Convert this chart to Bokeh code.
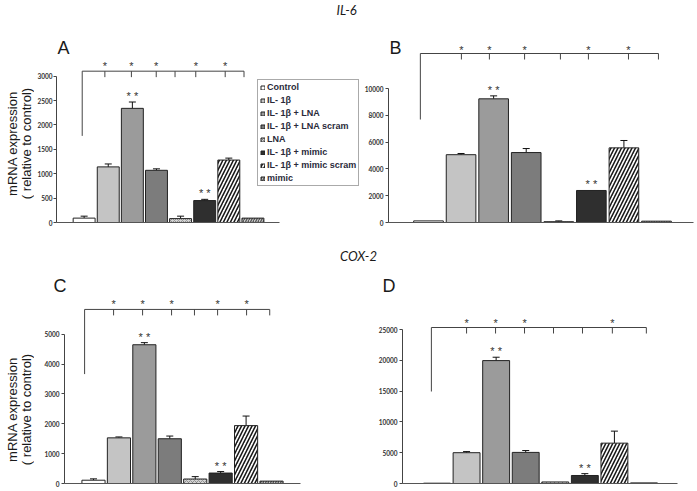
import math
from bokeh.plotting import figure
from bokeh.models import (ColumnDataSource, Range1d, FixedTicker, Label, Legend,
                          LegendItem, Whisker, TeeHead)
from bokeh.layouts import column, row
from bokeh.embed import file_html
from bokeh.resources import INLINE
from bokeh.core.properties import value

# ---------------- data ----------------
categories = ["Control", "IL- 1β", "IL- 1β + LNA", "IL- 1β + LNA scram", "LNA",
              "IL- 1β + mimic", "IL- 1β + mimic scram", "mimic"]
positions = [1, 2, 3, 4, 5, 6, 7, 8]

il6_a_values = [90, 1140, 2340, 1070, 80, 450, 1280, 90]
il6_a_errors = [40, 60, 130, 30, 50, 25, 40, 0]
il6_b_values = [120, 5060, 9230, 5220, 60, 2390, 5570, 100]
il6_b_errors = [0, 90, 220, 300, 60, 0, 550, 0]
cox2_c_values = [110, 1530, 4650, 1500, 150, 350, 1940, 80]
cox2_c_errors = [45, 30, 70, 90, 80, 50, 320, 0]
cox2_d_values = [50, 5000, 19950, 5050, 250, 1300, 6550, 100]
cox2_d_errors = [0, 180, 550, 300, 0, 300, 1950, 0]

ticks_a = [0, 500, 1000, 1500, 2000, 2500, 3000]
ticks_b = [0, 2000, 4000, 6000, 8000, 10000]
ticks_c = [0, 1000, 2000, 3000, 4000, 5000]
ticks_d = [0, 5000, 10000, 15000, 20000, 25000]

# significance bracket tick positions (category units) and which carry "*"
bracket_a = [1.86, 2.96, 3.99, 4.77, 5.63, 6.85, 7.63]
bracket_b = [2.01, 2.87, 3.95, 5.05, 5.91, 7.14, 8.06]
bracket_c = [1.79, 2.93, 4.07, 4.97, 5.88, 7.02, 7.93]
bracket_d = [2.00, 2.98, 3.96, 4.94, 5.92, 6.93, 8.08]
star_a = [0, 1, 2, 4, 5]
star_b = [0, 1, 2, 4, 5]
star_c = [0, 1, 2, 4, 5]
star_d = [0, 1, 2, 5]
double_star_bars = [3, 6]

ylabel_lines = ["mRNA expression", "( relative to control)"]

# ---------------- styles ----------------
bar_fill = ["#ffffff", "#c4c4c4", "#9b9b9b", "#7c7c7c", "#d2d2d2", "#2f2f2f", "#ffffff", "#c8c8c8"]
bar_hatch = [" ", " ", " ", " ", "x", " ", "/", "/"]
bar_hatch_color = ["#000000", "#000000", "#000000", "#000000", "#808080", "#000000", "#1a1a1a", "#555555"]
bar_hatch_scale = [6, 6, 6, 6, 4, 6, 7, 5]
bar_hatch_weight = [1, 1, 1, 1, 0.8, 1, 1.6, 1.3]

TICK_FONT = "Lato"
INK = "#333333"
TOTAL_H = 490


def build_panel(geom, vals, errs, yticks, brk_ticks, star_idx, brk_px, standoff=2):
    fx, fy, fw, fh = geom["fig"]
    axis_px, c1, dx = geom["axis_px"], geom["c1"], geom["dx"]
    base, top_px, top_val = geom["base"], geom["top_px"], geom["top_val"]
    upp = top_val / (base - top_px)

    def px2x(px):
        return 1 + (px - c1) / dx

    def px2y(py):
        return (base - py) * upp

    p = figure(width=fw, height=fh, output_backend="svg", toolbar_location=None,
               x_range=Range1d(px2x(axis_px), px2x(fx + fw)),
               y_range=Range1d(0, px2y(fy)),
               min_border_left=axis_px - fx, min_border_right=0,
               min_border_top=0, min_border_bottom=fy + fh - base,
               title=None)
    p.outline_line_color = None
    p.xgrid.visible = False
    p.ygrid.visible = False
    p.background_fill_color = "white"
    p.border_fill_color = "white"

    ya = p.yaxis[0]
    ya.ticker = FixedTicker(ticks=yticks)
    ya.bounds = (0, yticks[-1])
    ya.major_label_text_font = TICK_FONT
    ya.major_label_text_font_style = "bold"
    ya.major_label_text_font_size = "6.5px"
    ya.major_label_text_color = INK
    ya.major_label_standoff = standoff
    ya.major_tick_out = 3
    ya.major_tick_in = 0
    ya.minor_tick_out = 0
    ya.minor_tick_in = 0
    ya.axis_line_color = "#444444"
    ya.major_tick_line_color = "#444444"

    xa = p.xaxis[0]
    xa.ticker = FixedTicker(ticks=[])
    xa.bounds = (px2x(axis_px), px2x(geom["base_end"]))
    xa.major_tick_out = 0
    xa.major_tick_in = 0
    xa.minor_tick_out = 0
    xa.minor_tick_in = 0
    xa.major_label_text_font_size = "0px"
    xa.axis_line_color = "#555555"

    src = ColumnDataSource(dict(x=positions, top=vals, fill=bar_fill, hatch=bar_hatch,
                                hcol=bar_hatch_color, hscale=bar_hatch_scale,
                                hweight=bar_hatch_weight, cat=categories))
    r = p.vbar(x="x", top="top", width=0.91, source=src, fill_color="fill",
               line_color="#222222", line_width=1, hatch_pattern="hatch",
               hatch_color="hcol", hatch_scale="hscale", hatch_weight="hweight")

    ex = [x for x, e in zip(positions, errs) if e > 0]
    lo = [v for v, e in zip(vals, errs) if e > 0]
    hi = [v + e for v, e in zip(vals, errs) if e > 0]
    wsrc = ColumnDataSource(dict(x=ex, lower=lo, upper=hi))
    p.add_layout(Whisker(base="x", lower="lower", upper="upper", source=wsrc,
                         line_color="#111111", line_width=1, lower_head=None,
                         upper_head=TeeHead(size=7, line_color="#111111", line_width=1)))

    brk_y = px2y(brk_px["y"])
    drop_y = px2y(brk_px["drop"])
    tick_low = px2y(brk_px["y"] + 6)
    left = brk_px["left"]
    xs = [[left, brk_ticks[-1]], [left, left]]
    ys = [[brk_y, brk_y], [brk_y, drop_y]]
    for t in brk_ticks:
        xs.append([t, t])
        ys.append([brk_y, tick_low])
    p.multi_line(xs=xs, ys=ys, line_color="#444444", line_width=1)

    sx = [brk_ticks[i] for i in star_idx]
    sy = [px2y(brk_px["star"])] * len(sx)
    p.text(x=sx, y=sy, text=["*"] * len(sx), text_font=value("Liberation Sans"),
           text_font_size="11px", text_align="center", text_baseline="middle",
           text_color=INK, y_offset=2)
    dsx = list(double_star_bars)
    dsy = [vals[b - 1] + errs[b - 1] + 9 * upp for b in double_star_bars]
    p.text(x=dsx, y=dsy, text=["* *"] * len(dsx), text_font=value("Liberation Sans"),
           text_font_size="11px", text_align="center", text_baseline="middle",
           text_color=INK, y_offset=3)
    return p, r, px2x, px2y


LEFT_W = 34
geom_a = dict(fig=(LEFT_W, 0, 360 - LEFT_W, 248), axis_px=52, c1=80, dx=24.43, base=223,
              top_px=76, top_val=3000, base_end=278)
geom_b = dict(fig=(360, 0, 336, 248), axis_px=388, c1=428, dx=32.57, base=222,
              top_px=88, top_val=10000, base_end=693)
geom_c = dict(fig=(LEFT_W, 296, 372 - LEFT_W, 194), axis_px=64, c1=93, dx=25.43, base=484,
              top_px=334, top_val=5000, base_end=300)
geom_d = dict(fig=(372, 296, 324, 194), axis_px=402, c1=436.5, dx=29.57, base=483,
              top_px=329, top_val=25000, base_end=677)

pA, rA, ax_x, ax_y = build_panel(geom_a, il6_a_values, il6_a_errors, ticks_a, bracket_a, star_a,
                                 dict(y=71, drop=136, star=64, left=0.92), standoff=1)
pB, rB, bx_x, bx_y = build_panel(geom_b, il6_b_values, il6_b_errors, ticks_b, bracket_b, star_b,
                                 dict(y=53, drop=119, star=47, left=0.75))
pC, rC, cx_x, cx_y = build_panel(geom_c, cox2_c_values, cox2_c_errors, ticks_c, bracket_c, star_c,
                                 dict(y=309, drop=374, star=302, left=0.65))
pD, rD, dx_x, dx_y = build_panel(geom_d, cox2_d_values, cox2_d_errors, ticks_d, bracket_d, star_d,
                                 dict(y=327, drop=391, star=320, left=0.81))


def add_label(p, x, y, text, **kw):
    opts = dict(text_font="Liberation Sans", text_color="#1a1a1a")
    opts.update(kw)
    p.add_layout(Label(x=x, y=y, text=text, **opts))


def blank_fig(w, h):
    f = figure(width=w, height=h, output_backend="svg", toolbar_location=None,
               x_range=Range1d(0, w), y_range=Range1d(0, h),
               x_axis_type=None, y_axis_type=None, title=None,
               min_border_left=0, min_border_right=0, min_border_top=0, min_border_bottom=0)
    f.outline_line_color = None
    f.xgrid.visible = False
    f.ygrid.visible = False
    return f


# letters: glyph bottom sits about 4px above the "bottom" text baseline for 18px text
add_label(pA, ax_x(53), ax_y(58), "A", text_font_size="18px", text_baseline="bottom")
add_label(pB, bx_x(389), bx_y(57), "B", text_font_size="18px", text_baseline="bottom")
add_label(pA, ax_x(346), ax_y(10), "IL-6", text_font="Lato", text_font_style="italic",
          text_font_size="13px", text_align="center", text_baseline="middle")

# strip between the rows: COX-2 title and letters C, D
STRIP_TOP, STRIP_H = 248, 48
strip = blank_fig(696 - LEFT_W, STRIP_H)


def s_x(px):
    return px - LEFT_W


def s_y(py):
    return STRIP_TOP + STRIP_H - py


add_label(strip, s_x(358), s_y(255), "COX-2", text_font="Lato", text_font_style="italic",
          text_font_size="13px", text_align="center", text_baseline="middle")
add_label(strip, s_x(53), s_y(295), "C", text_font_size="18px", text_baseline="bottom")
add_label(strip, s_x(382), s_y(295), "D", text_font_size="18px", text_baseline="bottom")

# left strip: y-axis titles of A and C
left_strip = blank_fig(LEFT_W, TOTAL_H)
for cy in (143, 409):
    for lx, txt in zip((12.0, 26.0), ylabel_lines):
        add_label(left_strip, lx, TOTAL_H - cy, txt, angle=math.pi / 2,
                  text_font_size="13px", text_align="center", text_baseline="middle")

# legend
items = [LegendItem(label=c, renderers=[rA], index=i) for i, c in enumerate(categories)]
legend = Legend(items=items, location=(201, 36), padding=2, margin=0, spacing=3,
                glyph_width=5, glyph_height=5, label_standoff=2, label_height=10,
                label_text_font="Liberation Sans", label_text_font_style="bold",
                label_text_font_size="9px", label_text_color="#2a2a3a",
                border_line_color="#555555", border_line_width=1,
                background_fill_color="white", background_fill_alpha=1)
pA.add_layout(legend)

layout = row(left_strip, column(row(pA, pB), strip, row(pC, pD)))
open("out.html", "w").write(file_html(layout, INLINE))
